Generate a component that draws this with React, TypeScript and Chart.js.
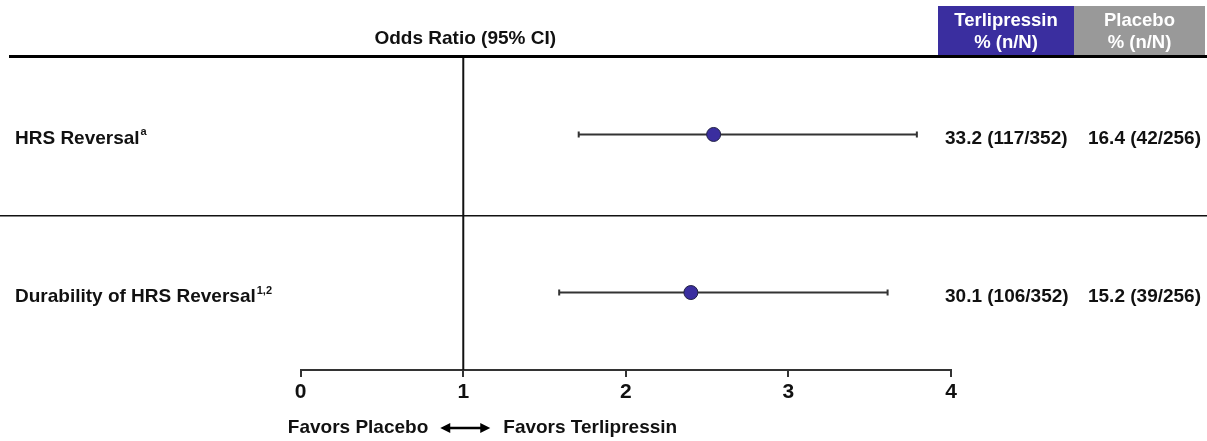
import React, { useEffect, useRef } from 'react';
import { Chart, registerables } from 'chart.js';

Chart.register(...registerables);

const outcomes = ['HRS Reversal', 'Durability of HRS Reversal'];
const outcomeSup = ['a', '1,2'];
const rowPos = [1, 0];
const oddsRatio = [2.54, 2.4];
const ciLower = [1.71, 1.59];
const ciUpper = [3.79, 3.61];
const terlipressinPct = ['33.2 (117/352)', '30.1 (106/352)'];
const placeboPct = ['16.4 (42/256)', '15.2 (39/256)'];
const xTicks = [0, 1, 2, 3, 4];
const referenceOR = 1;
const axisTitle = 'Odds Ratio (95% CI)';
const groupHeaders = ['Terlipressin', 'Placebo'];
const favorsLeft = 'Favors Placebo';
const favorsRight = 'Favors Terlipressin';

const FONT = '"Liberation Sans", Arial, sans-serif';
const INK = '#111111';
const BAR = '#333333';
const TERLI = '#3a2e9f';
const PLAC = '#999999';

const forestPlugin = {
  id: 'forest',
  beforeDatasetsDraw(chart: any) {
    const { ctx, chartArea, scales } = chart;
    const x = scales.x;
    const y = scales.y;
    ctx.save();
    const xr = x.getPixelForValue(referenceOR);
    ctx.strokeStyle = INK;
    ctx.lineWidth = 2;
    ctx.beginPath();
    ctx.moveTo(xr, chartArea.top);
    ctx.lineTo(xr, chartArea.bottom);
    ctx.stroke();
    ctx.strokeStyle = BAR;
    ctx.lineWidth = 2;
    for (let i = 0; i < outcomes.length; i++) {
      const py = y.getPixelForValue(rowPos[i]);
      const x1 = x.getPixelForValue(ciLower[i]);
      const x2 = x.getPixelForValue(ciUpper[i]);
      ctx.beginPath();
      ctx.moveTo(x1, py);
      ctx.lineTo(x2, py);
      ctx.moveTo(x1, py - 3);
      ctx.lineTo(x1, py + 3);
      ctx.moveTo(x2, py - 3);
      ctx.lineTo(x2, py + 3);
      ctx.stroke();
    }
    ctx.restore();
  },
  afterDraw(chart: any) {
    const { ctx, scales, width } = chart;
    const y = scales.y;
    const x = scales.x;
    const xr = x.getPixelForValue(referenceOR);
    ctx.save();

    const boxTop = 6;
    const boxBottom = 55;
    const b1 = 938;
    const b2 = 1074;
    const b3 = 1205;
    ctx.fillStyle = TERLI;
    ctx.fillRect(b1, boxTop, b2 - b1, boxBottom - boxTop);
    ctx.fillStyle = PLAC;
    ctx.fillRect(b2, boxTop, b3 - b2, boxBottom - boxTop);
    ctx.fillStyle = '#ffffff';
    ctx.font = `bold 18.5px ${FONT}`;
    ctx.textAlign = 'center';
    ctx.textBaseline = 'middle';
    ctx.fillText(groupHeaders[0], (b1 + b2) / 2, 21);
    ctx.fillText('% (n/N)', (b1 + b2) / 2, 43);
    ctx.fillText(groupHeaders[1], (b2 + b3) / 2, 21);
    ctx.fillText('% (n/N)', (b2 + b3) / 2, 43);

    ctx.fillStyle = INK;
    ctx.font = `bold 19px ${FONT}`;
    ctx.fillText(axisTitle, xr + 2, 39);

    ctx.strokeStyle = '#000';
    ctx.lineWidth = 3;
    ctx.beginPath();
    ctx.moveTo(9, 56.5);
    ctx.lineTo(width, 56.5);
    ctx.stroke();

    ctx.strokeStyle = INK;
    ctx.lineWidth = 1.5;
    const dy = y.getPixelForValue(0.485);
    ctx.beginPath();
    ctx.moveTo(0, dy);
    ctx.lineTo(width, dy);
    ctx.stroke();

    for (let i = 0; i < outcomes.length; i++) {
      const py = y.getPixelForValue(rowPos[i]) + 4;
      ctx.fillStyle = INK;
      ctx.font = `bold 19px ${FONT}`;
      ctx.textAlign = 'left';
      ctx.textBaseline = 'middle';
      ctx.fillText(outcomes[i], 15, py);
      const w = ctx.measureText(outcomes[i]).width;
      ctx.font = `bold 11px ${FONT}`;
      ctx.fillText(outcomeSup[i], 15 + w + 1, py - 6);
      ctx.font = `bold 19px ${FONT}`;
      ctx.fillText(terlipressinPct[i], 945, py);
      ctx.textAlign = 'right';
      ctx.fillText(placeboPct[i], 1201, py);
    }

    const fy = 428;
    ctx.font = `bold 19px ${FONT}`;
    ctx.textBaseline = 'middle';
    ctx.fillStyle = INK;
    ctx.textAlign = 'right';
    ctx.fillText(favorsLeft, xr - 35, fy);
    ctx.textAlign = 'left';
    ctx.fillText(favorsRight, xr + 40, fy);
    const ax1 = xr - 23;
    const ax2 = xr + 27;
    ctx.strokeStyle = '#000';
    ctx.lineWidth = 2.5;
    ctx.beginPath();
    ctx.moveTo(ax1 + 4, fy);
    ctx.lineTo(ax2 - 4, fy);
    ctx.stroke();
    ctx.fillStyle = '#000';
    ctx.beginPath();
    ctx.moveTo(ax1, fy);
    ctx.lineTo(ax1 + 10, fy - 5);
    ctx.lineTo(ax1 + 10, fy + 5);
    ctx.closePath();
    ctx.fill();
    ctx.beginPath();
    ctx.moveTo(ax2, fy);
    ctx.lineTo(ax2 - 10, fy - 5);
    ctx.lineTo(ax2 - 10, fy + 5);
    ctx.closePath();
    ctx.fill();

    ctx.restore();
  },
};

export default function App() {
  const ref = useRef<HTMLCanvasElement | null>(null);
  useEffect(() => {
    document.body.style.margin = '0';
    const canvas = ref.current;
    if (!canvas) return;
    const chart = new Chart(canvas, {
      type: 'scatter',
      data: {
        datasets: [
          {
            data: oddsRatio.map((v, i) => ({ x: v, y: rowPos[i] })),
            backgroundColor: TERLI,
            borderColor: '#222244',
            borderWidth: 1,
            pointRadius: 7,
            pointHoverRadius: 7,
          },
        ],
      },
      options: {
        animation: false,
        responsive: false,
        events: [],
        layout: { padding: { left: 300.7, right: 256, top: 57, bottom: 21 } },
        plugins: { legend: { display: false }, tooltip: { enabled: false } },
        scales: {
          x: {
            type: 'linear',
            min: xTicks[0],
            max: xTicks[xTicks.length - 1],
            afterFit: (s: any) => {
              s.height = 50;
            },
            afterBuildTicks: (s: any) => {
              s.ticks = xTicks.map((v) => ({ value: v }));
            },
            border: { display: true, color: BAR, width: 2 },
            grid: {
              display: true,
              drawOnChartArea: false,
              drawTicks: true,
              tickLength: 7,
              color: BAR,
              lineWidth: 2,
            },
            ticks: {
              color: INK,
              padding: 3,
              font: { family: FONT, size: 21, weight: 'bold' },
              callback: (v: any) => String(v),
            },
          },
          y: {
            type: 'linear',
            display: false,
            min: -0.49,
            max: 1.49,
          },
        },
      },
      plugins: [forestPlugin],
    } as any);
    return () => chart.destroy();
  }, []);
  return <canvas ref={ref} width={1207} height={441} style={{ display: 'block' }} />;
}
